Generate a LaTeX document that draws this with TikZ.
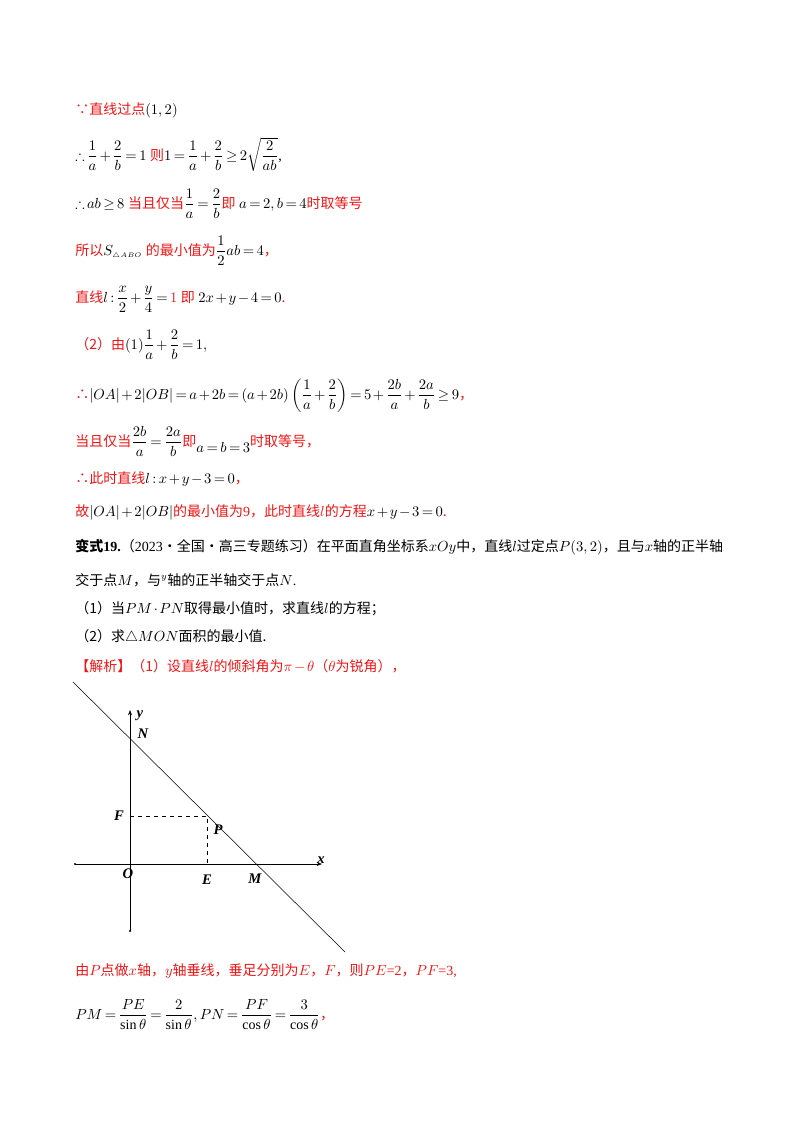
\documentclass[tikz,border=0pt]{standalone}
\usepackage{amsmath,amssymb}
\usepackage{fontspec}
\usetikzlibrary{arrows.meta}
\setmainfont{Liberation Serif}
\newfontfamily\cjk{Noto Sans CJK SC}
\definecolor{rd}{RGB}{240,20,20}
\newcommand{\zh}[1]{{\cjk #1}}
\newcommand{\rz}[1]{{\color{rd}\cjk #1}}
\medmuskip=2mu plus 1mu minus 2mu
\thickmuskip=3mu plus 2mu
\tikzset{ln/.style={anchor=base west,inner sep=0pt,font=\fontsize{10.5}{12}\selectfont},
 lab/.style={font=\bfseries\itshape\fontsize{11}{12}\selectfont,inner sep=0pt}}
\begin{document}
\begin{tikzpicture}[x=0.75pt,y=-0.75pt]
\useasboundingbox (0,0) rectangle (800,1132);
\node[ln] (l1) at (75,114) {\rz{∵直线过点}$(1,2)$};
\node[ln] (l2) at (75,160) {$\therefore\dfrac{1}{a}+\dfrac{2}{b}=1$ \rz{则}$1=\dfrac{1}{a}+\dfrac{2}{b}\ge 2\sqrt{\dfrac{2}{ab}}$,};
\node[ln] (l3) at (75,208) {$\therefore ab\ge 8$ \rz{当且仅当}$\dfrac{1}{a}=\dfrac{2}{b}$\rz{即} $a=2,b=4$\rz{时取等号}};
\node[ln] (l4) at (75,255) {\rz{所以}$S_{\scriptscriptstyle\triangle ABO}$ \rz{的最小值为}$\dfrac{1}{2}ab=4$\rz{，}};
\node[ln] (l5) at (75,302) {\rz{直线}$l:\dfrac{x}{2}+\dfrac{y}{4}={\color{rd}1}$ \rz{即} $2x+y-4=0$\rz{.}};
\node[ln] (l6) at (75,349) {\rz{（2）由}$(1)\dfrac{1}{a}+\dfrac{2}{b}=1,$};
\node[ln] (l7) at (75,399) {\rz{∴}$|OA|+2|OB|=a+2b=(a+2b)\left(\dfrac{1}{a}+\dfrac{2}{b}\right)=5+\dfrac{2b}{a}+\dfrac{2a}{b}\ge 9$\rz{，}};
\node[ln] (l8) at (75,446) {\rz{当且仅当}$\dfrac{2b}{a}=\dfrac{2a}{b}$\rz{即}\raisebox{-5pt}{$a=b=3$}\rz{时取等号，}};
\node[ln] (l9) at (75,483) {\rz{∴此时直线}$l:x+y-3=0$\rz{，}};
\node[ln] (l10) at (75,516) {\rz{故}$|OA|+2|OB|$\rz{的最小值为}{\color{rd}9}\rz{，此时直线}{\color{rd}$l$}\rz{的方程}$x+y-3=0$\rz{.}};
\node[ln] (l11) at (75,551) {\zh{\bfseries 变式}\textbf{19.}\zh{（}2023\zh{·全国·高三专题练习）在平面直角坐标系}$xOy$\zh{中，直线}$l$\zh{过定点}$P(3,2)$\zh{，且与}$x$\zh{轴的正半轴}};
\node[ln] (l12) at (75,585) {\zh{交于点}$M$\zh{，与}$^y$\zh{轴的正半轴交于点}$N$.};
\node[ln] (l13) at (75,613) {\zh{（1）当}$PM\cdot PN$\zh{取得最小值时，求直线}$l$\zh{的方程；}};
\node[ln] (l14) at (75,641) {\zh{（2）求}$\triangle MON$\zh{面积的最小值.}};
\node[ln] (l15) at (75,671) {\rz{【解析】（1）设直线}{\color{rd}$l$}\rz{的倾斜角为}{\color{rd}$\pi-\theta$}\rz{（}{\color{rd}$\theta$}\rz{为锐角），}};
% diagram
\coordinate (A) at (73,682); \coordinate (B) at (345,952);
\coordinate (O) at (130,864); \coordinate (N) at (130,739);
\coordinate (P) at (207,816); \coordinate (E) at (207,864);
\coordinate (F) at (130,816); \coordinate (M) at (257,864);
\coordinate (yt) at (130,710); \coordinate (yb) at (130,931);
\coordinate (xl) at (75,864); \coordinate (xr) at (322,864);
\draw[thin] (A) -- (B);
\draw[thin,-{Stealth[length=4pt,width=3pt]}] (yb) -- (yt);
\draw[thin,-{Stealth[length=4pt,width=3pt]}] (xl) -- (xr);
\draw[thin,dashed] (F) -- (P) -- (E);
\fill (yb) circle (0.8pt) (xl) circle (0.8pt);
\node[lab] (ty) at (140,716) {y};
\node[lab] (tN) at (143,734) {N};
\node[lab] (tF) at (119,816) {F};
\node[lab] (tP) at (218,830) {P};
\node[lab] (tO) at (128,874) {O};
\node[lab] (tE) at (207,880) {E};
\node[lab] (tM) at (255,879) {M};
\node[lab] (tx) at (321,860) {x};
\node[ln] (l16) at (75,975) {\rz{由}{\color{rd}$P$}\rz{点做}{\color{rd}$x$}\rz{轴，}{\color{rd}$y$}\rz{轴垂线，垂足分别为}{\color{rd}$E$}\rz{，}{\color{rd}$F$}\rz{，则}{\color{rd}$PE$=2}\rz{，}{\color{rd}$PF$=3,}};
\node[ln] (l17) at (75,1019) {$PM=\dfrac{PE}{\sin\theta}=\dfrac{2}{\sin\theta},PN=\dfrac{PF}{\cos\theta}=\dfrac{3}{\cos\theta}$\rz{，}};
\end{tikzpicture}
\end{document}
